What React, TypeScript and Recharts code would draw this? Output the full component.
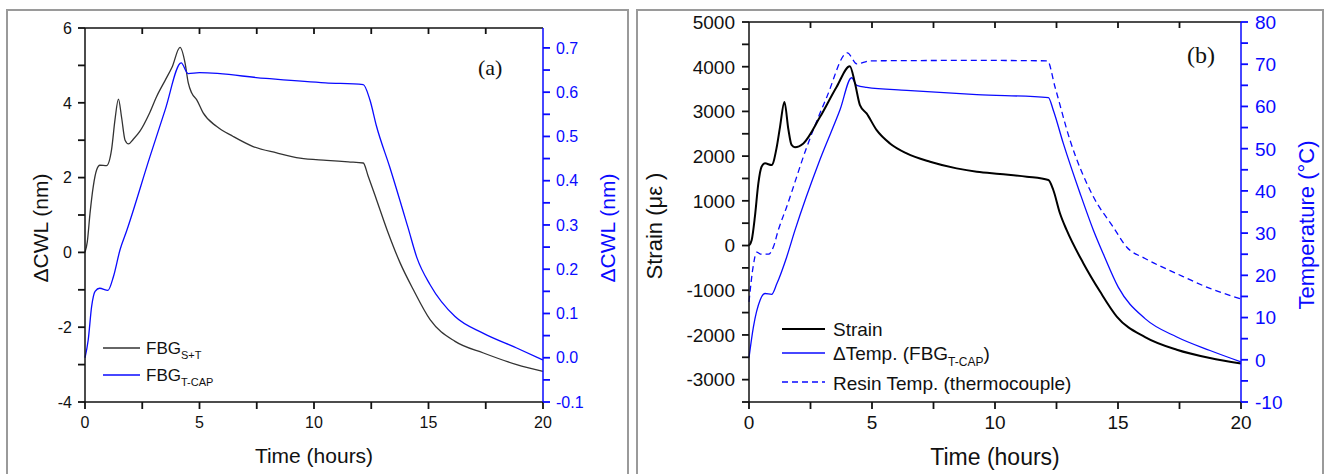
import React from 'react';
import { Legend, Line, LineChart, XAxis, YAxis } from 'recharts';

const SANS = '"Liberation Sans", Arial, Helvetica, sans-serif';
const SERIF = '"Liberation Serif", "Times New Roman", serif';
const BLUE = '#0a0aff';
const INK = '#111111';

// ---- panel (a): ΔCWL of the two gratings ----
const aSTHours = [0, 0.1, 0.22, 0.36, 0.51, 0.65, 0.94, 1.16, 1.31, 1.46, 1.6, 1.75, 1.9, 2.1, 2.4, 2.8, 3.13, 3.5, 3.8, 4.15, 4.37, 4.51, 4.66, 4.88, 5.16, 5.74, 6.47, 7.34, 8.37, 9.39, 10.55, 11.5, 12.15, 12.37, 12.73, 13.24, 13.76, 14.34, 15.07, 16.16, 17.4, 18.85, 20];
const aSTShift = [0, 0.28, 1.05, 1.76, 2.21, 2.33, 2.32, 2.75, 3.55, 4.1, 3.6, 3.0, 2.9, 3.02, 3.24, 3.7, 4.17, 4.6, 4.95, 5.48, 5.06, 4.53, 4.26, 4.08, 3.73, 3.37, 3.1, 2.83, 2.66, 2.52, 2.46, 2.42, 2.39, 2.03, 1.41, 0.52, -0.28, -1.0, -1.8, -2.38, -2.69, -3.0, -3.18];

const aCapHours = [0, 0.14, 0.29, 0.44, 0.64, 1.0, 1.24, 1.53, 1.82, 2.84, 3.5, 4.2, 4.5, 5.0, 7.9, 10.5, 12.15, 12.44, 12.73, 13.3, 14.1, 14.5, 15.07, 16.16, 17.4, 18.85, 20];
const aCapShift = [0, 0.04, 0.116, 0.15, 0.157, 0.152, 0.183, 0.244, 0.287, 0.455, 0.56, 0.666, 0.642, 0.644, 0.631, 0.621, 0.617, 0.583, 0.523, 0.432, 0.295, 0.225, 0.165, 0.093, 0.055, 0.022, -0.005];

const hourTicks = [0, 2.5, 5, 7.5, 10, 12.5, 15, 17.5, 20];
const aLeftTicks = [-4, -3, -2, -1, 0, 1, 2, 3, 4, 5, 6];
const aRightTicks = [-0.1, -0.05, 0, 0.05, 0.1, 0.15, 0.2, 0.25, 0.3, 0.35, 0.4, 0.45, 0.5, 0.55, 0.6, 0.65, 0.7];

// ---- panel (b): strain and temperatures ----
const bStrainHours = [0, 0.11, 0.24, 0.38, 0.51, 0.65, 0.92, 1.13, 1.26, 1.44, 1.6, 1.73, 1.87, 2.21, 2.89, 3.56, 4.1, 4.31, 4.51, 4.78, 5.19, 5.73, 6.41, 7.36, 8.44, 9.26, 10.2, 11.29, 12.17, 12.37, 12.64, 12.91, 13.59, 14.27, 14.95, 16.1, 17.39, 18.74, 20];
const bStrain = [0, 125, 646, 1391, 1762, 1838, 1800, 2209, 2650, 3213, 2600, 2250, 2200, 2284, 2878, 3548, 4011, 3624, 3140, 2955, 2581, 2284, 2061, 1874, 1726, 1650, 1600, 1540, 1465, 1242, 721, 348, -395, -1030, -1588, -2048, -2331, -2517, -2640];

const bCapHours = [0, 0.18, 0.45, 0.65, 0.92, 1.13, 1.53, 1.87, 2.89, 3.7, 4.17, 4.38, 4.78, 6.41, 9.26, 12.17, 12.37, 12.78, 13.46, 14.0, 14.4, 15.01, 16.1, 17.39, 18.74, 20];
const bCapTemp = [0.5, 7.8, 14.1, 15.7, 15.5, 18.0, 24.3, 30.7, 47.5, 59.2, 66.8, 65.0, 64.5, 63.8, 62.8, 62.1, 59.1, 51.2, 39.4, 30.7, 25.1, 17.2, 9.75, 5.4, 2.2, -0.5];

const bResinHours = [0, 0.18, 0.31, 0.5, 0.79, 0.99, 1.19, 1.53, 2.35, 3.16, 4.0, 4.38, 4.92, 9.26, 12.13, 12.44, 13.05, 14.0, 14.81, 15.35, 16.1, 17.39, 18.74, 20];
const bResinTemp = [13.7, 22.5, 25.5, 25.0, 25.0, 26.7, 30.7, 36.2, 50.4, 62.2, 72.7, 70.1, 70.8, 70.9, 70.8, 64.6, 52.0, 38.6, 31.4, 26.7, 24.0, 20.4, 16.9, 14.4];

const bLeftTicks = [-3500, -3000, -2500, -2000, -1500, -1000, -500, 0, 500, 1000, 1500, 2000, 2500, 3000, 3500, 4000, 4500, 5000];
const bRightTicks = [-10, -5, 0, 5, 10, 15, 20, 25, 30, 35, 40, 45, 50, 55, 60, 65, 70, 75, 80];

const zip = (ts: number[], vs: number[]) => ts.map((t, i) => ({ t, v: vs[i] }));

const aSTData = zip(aSTHours, aSTShift);
const aCapData = zip(aCapHours, aCapShift);
const bStrainData = zip(bStrainHours, bStrain);
const bCapData = zip(bCapHours, bCapTemp);
const bResinData = zip(bResinHours, bResinTemp);

type Side = 'bottom' | 'left' | 'right';
interface TickOpts {
  side: Side;
  isMajor: (v: number) => boolean;
  format: (v: number) => string;
  color: string;
  fontSize: number;
  gap: number;
}

// labels only on the major ticks; marks come from recharts' own tickLine
function tickLabels(o: TickOpts) {
  return (props: any) => {
    const x = Number(props.x);
    const y = Number(props.y);
    const v = Number(props.payload.value);
    if (!o.isMajor(v)) return <g />;
    const ts = { fill: o.color, stroke: 'none', fontSize: o.fontSize, fontFamily: SANS };
    const label = o.format(v);
    if (o.side === 'bottom') return <text x={x} y={y + o.gap} textAnchor="middle" {...ts}>{label}</text>;
    if (o.side === 'left') return <text x={x - o.gap} y={y} dy="0.36em" textAnchor="end" {...ts}>{label}</text>;
    return <text x={x + o.gap} y={y} dy="0.36em" textAnchor="start" {...ts}>{label}</text>;
  };
}

const noLabel = () => <g />;

const even = (v: number) => Math.abs(v) % 2 === 0;
const mult5 = (v: number) => v % 5 === 0;
const tenth = (v: number) => Math.abs(Math.round(v * 10) - v * 10) < 1e-6;
const mult10 = (v: number) => v % 10 === 0;
const mult1000 = (v: number) => v % 1000 === 0;

function axisTitle(text: string, x: number, y: number, size: number, color: string, vertical: boolean) {
  return () => (
    <text
      x={x}
      y={y}
      fill={color}
      fontSize={size}
      fontFamily={SANS}
      textAnchor="middle"
      transform={vertical ? `rotate(-90, ${x}, ${y})` : undefined}
    >
      {text}
    </text>
  );
}

interface LegendRow {
  label: React.ReactNode;
  color: string;
  width: number;
  dash?: string;
  top: number;
}

function legendContent(rows: LegendRow[], sample: number, gap: number, fontSize: number) {
  return () => (
    <div style={{ position: 'relative', fontFamily: SANS, fontSize, color: INK, lineHeight: 1 }}>
      {rows.map((r, i) => (
        <div key={i} style={{ position: 'absolute', left: 0, top: r.top, display: 'flex', alignItems: 'center', whiteSpace: 'nowrap' }}>
          <svg width={sample} height={10} style={{ marginRight: gap }}>
            <line x1={0} y1={5} x2={sample} y2={5} stroke={r.color} strokeWidth={r.width} strokeDasharray={r.dash} />
          </svg>
          <span style={{ position: 'relative', top: 1 }}>{r.label}</span>
        </div>
      ))}
    </div>
  );
}

const sub = (s: string, size: number, drop: number) => (
  <span style={{ fontSize: size, position: 'relative', top: drop }}>{s}</span>
);

const legendA: LegendRow[] = [
  { label: <>FBG{sub('S+T', 11, 5)}</>, color: '#333', width: 1.3, top: 0 },
  { label: <>FBG{sub('T-CAP', 11, 5)}</>, color: BLUE, width: 1.3, top: 27 },
];

const legendB: LegendRow[] = [
  { label: 'Strain', color: '#000', width: 2, top: 0 },
  { label: <>ΔTemp. (FBG{sub('T-CAP', 12, 6)})</>, color: BLUE, width: 1.3, top: 24 },
  { label: 'Resin Temp. (thermocouple)', color: BLUE, width: 1.3, dash: '6 4', top: 53.5 },
];

const tickStroke = (c: string) => ({ stroke: c, strokeWidth: 1.8 });
const axisStroke = (c: string) => ({ stroke: c, strokeWidth: 1.5 });

function PanelA() {
  return (
    <LineChart width={640} height={474} data={aSTData} margin={{ top: 28, right: 0, bottom: 0, left: 0 }}>
      <XAxis
        xAxisId="top"
        orientation="top"
        mirror
        type="number"
        dataKey="t"
        domain={[0, 20]}
        ticks={hourTicks.slice(1, -1)}
        interval={0}
        height={1}
        tickSize={6}
        stroke={INK}
        tickLine={tickStroke(INK)}
        axisLine={axisStroke(INK)}
        tick={noLabel}
      />
      <XAxis
        type="number"
        dataKey="t"
        domain={[0, 20]}
        ticks={hourTicks}
        interval={0}
        height={72}
        tickSize={7}
        stroke={INK}
        tickLine={tickStroke(INK)}
        axisLine={axisStroke(INK)}
        tick={tickLabels({ side: 'bottom', isMajor: mult5, format: (v) => String(v), color: INK, fontSize: 16, gap: 17 })}
        label={axisTitle('Time (hours)', 314, 463, 21, INK, false)}
      />
      <YAxis
        yAxisId="left"
        type="number"
        domain={[-4, 6]}
        ticks={aLeftTicks}
        interval={0}
        width={85}
        tickSize={7}
        stroke={INK}
        tickLine={tickStroke(INK)}
        axisLine={axisStroke(INK)}
        tick={tickLabels({ side: 'left', isMajor: even, format: (v) => String(v), color: INK, fontSize: 16, gap: 4 })}
        label={axisTitle('ΔCWL (nm)', 48, 228, 21, INK, true)}
      />
      <YAxis
        yAxisId="right"
        orientation="right"
        type="number"
        domain={[-0.1, 0.745]}
        ticks={aRightTicks}
        interval={0}
        width={97}
        tickSize={7}
        stroke={BLUE}
        tickLine={tickStroke(BLUE)}
        axisLine={axisStroke(BLUE)}
        tick={tickLabels({ side: 'right', isMajor: tenth, format: (v) => v.toFixed(1), color: BLUE, fontSize: 16, gap: 4 })}
        label={axisTitle('ΔCWL (nm)', 615, 228, 21, BLUE, true)}
      />
      <Legend
        layout="vertical"
        align="center"
        verticalAlign="middle"
        wrapperStyle={{ left: 103, top: 339, width: 300, height: 60 }}
        content={legendContent(legendA, 37, 6, 17)}
      />
      <Line yAxisId="left" data={aSTData} dataKey="v" type="monotone" stroke="#333" strokeWidth={1.3} dot={false} isAnimationActive={false} />
      <Line yAxisId="right" data={aCapData} dataKey="v" type="monotone" stroke={BLUE} strokeWidth={1.3} dot={false} isAnimationActive={false} />
    </LineChart>
  );
}

function PanelB() {
  return (
    <LineChart width={693} height={474} data={bStrainData} margin={{ top: 22, right: 0, bottom: 0, left: 0 }}>
      <XAxis
        xAxisId="top"
        orientation="top"
        mirror
        type="number"
        dataKey="t"
        domain={[0, 20]}
        ticks={hourTicks.slice(1, -1)}
        interval={0}
        height={1}
        tickSize={6}
        stroke={INK}
        tickLine={tickStroke(INK)}
        axisLine={axisStroke(INK)}
        tick={noLabel}
      />
      <XAxis
        type="number"
        dataKey="t"
        domain={[0, 20]}
        ticks={hourTicks}
        interval={0}
        height={72}
        tickSize={7}
        stroke={INK}
        tickLine={tickStroke(INK)}
        axisLine={axisStroke(INK)}
        tick={tickLabels({ side: 'bottom', isMajor: mult5, format: (v) => String(v), color: INK, fontSize: 19, gap: 18 })}
        label={axisTitle('Time (hours)', 995 - 637, 465, 23, INK, false)}
      />
      <YAxis
        yAxisId="left"
        type="number"
        domain={[-3500, 5000]}
        ticks={bLeftTicks}
        interval={0}
        width={112}
        tickSize={7}
        stroke={INK}
        tickLine={tickStroke(INK)}
        axisLine={axisStroke(INK)}
        tick={tickLabels({ side: 'left', isMajor: mult1000, format: (v) => String(v), color: INK, fontSize: 19, gap: 5 })}
        label={axisTitle('Strain (με )', 662 - 637, 226, 22, INK, true)}
      />
      <YAxis
        yAxisId="right"
        orientation="right"
        type="number"
        domain={[-10, 80]}
        ticks={bRightTicks}
        interval={0}
        width={89}
        tickSize={7}
        stroke={BLUE}
        tickLine={tickStroke(BLUE)}
        axisLine={axisStroke(BLUE)}
        tick={tickLabels({ side: 'right', isMajor: mult10, format: (v) => String(v), color: BLUE, fontSize: 19, gap: 5 })}
        label={axisTitle('Temperature (°C)', 1314 - 637, 225, 22, BLUE, true)}
      />
      <Legend
        layout="vertical"
        align="center"
        verticalAlign="middle"
        wrapperStyle={{ left: 782 - 637, top: 319, width: 340, height: 80 }}
        content={legendContent(legendB, 43, 8, 19)}
      />
      <Line yAxisId="right" data={bResinData} dataKey="v" type="monotone" stroke={BLUE} strokeWidth={1.3} strokeDasharray="6 4" dot={false} isAnimationActive={false} />
      <Line yAxisId="right" data={bCapData} dataKey="v" type="monotone" stroke={BLUE} strokeWidth={1.3} dot={false} isAnimationActive={false} />
      <Line yAxisId="left" data={bStrainData} dataKey="v" type="monotone" stroke="#000" strokeWidth={2} dot={false} isAnimationActive={false} />
    </LineChart>
  );
}

const frame = (left: number, width: number): React.CSSProperties => ({
  position: 'absolute',
  left,
  top: 9,
  width,
  height: 463,
  borderLeft: '2px solid #9a9a9a',
  borderTop: '2px solid #9a9a9a',
  borderRight: '2px solid #9a9a9a',
});

export default function App() {
  return (
    <div style={{ position: 'absolute', left: 0, top: 0, width: 1330, height: 474, background: '#fff' }}>
      <div style={frame(6, 619)} />
      <div style={frame(636, 684)} />
      <div style={{ position: 'absolute', left: 0, top: 0 }}>
        <PanelA />
      </div>
      <div style={{ position: 'absolute', left: 637, top: 0 }}>
        <PanelB />
      </div>
      <div style={{ position: 'absolute', left: 478, top: 55, fontFamily: SERIF, fontSize: 22, color: INK }}>(a)</div>
      <div style={{ position: 'absolute', left: 1187, top: 42, fontFamily: SERIF, fontSize: 24, color: INK }}>(b)</div>
    </div>
  );
}
